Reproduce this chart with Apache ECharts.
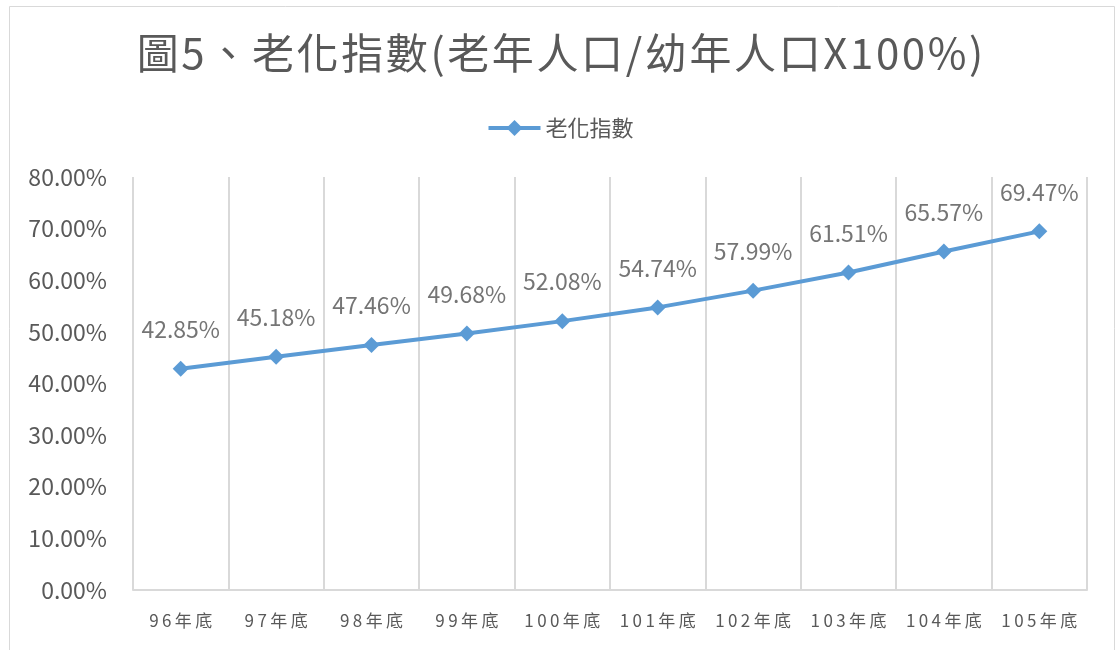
<!DOCTYPE html>
<html><head><meta charset="utf-8">
<script src="https://cdn.jsdelivr.net/npm/echarts@6/dist/echarts.min.js"></script>
<style>html,body{margin:0;padding:0;background:#fff}#c{width:1120px;height:650px}</style>
</head><body><div id="c"></div>
<script>
const titleText = '圖5、老化指數(老年人口/幼年人口X100%)';
const seriesName = '老化指數';
const categories = ['96年底','97年底','98年底','99年底','100年底','101年底','102年底','103年底','104年底','105年底'];
const values = [42.85, 45.18, 47.46, 49.68, 52.08, 54.74, 57.99, 61.51, 65.57, 69.47];
const yTicks = [0, 10, 20, 30, 40, 50, 60, 70, 80];

const FONT = '"Noto Sans CJK TC","Noto Sans",sans-serif';
const spaced = (s, sp) => s.split('').join(sp);
const chart = echarts.init(document.getElementById('c'), null, {renderer:'canvas'});
chart.setOption({
  backgroundColor:'#fff',
  animation:false,
  graphic:[{type:'rect', shape:{x:9.5,y:6.5,width:1105,height:660}, style:{fill:'none',stroke:'#d9d9d9',lineWidth:1}, z:-1}],
  title:{text:spaced(titleText,'\u200a'), left:'center', top:27, textStyle:{fontFamily:FONT, fontSize:42, fontWeight:'normal', color:'#595959'}},
  legend:{top:112, left:'center', itemWidth:52, itemHeight:20, itemGap:4,
    lineStyle:{width:4}, textStyle:{fontFamily:FONT, fontSize:22, color:'#595959'}, data:[seriesName]},
  grid:{left:133, right:33, top:177, bottom:60, containLabel:false},
  xAxis:{type:'category', data:categories, boundaryGap:true,
    axisLine:{lineStyle:{color:'#d9d9d9', width:2}}, axisTick:{show:false},
    splitLine:{show:true, lineStyle:{color:'#d9d9d9', width:2}},
    axisLabel:{interval:0, margin:22, fontFamily:FONT, fontSize:17, color:'#595959', formatter:v=>spaced(v,'\u2009')}},
  yAxis:{type:'value', min:yTicks[0], max:yTicks[yTicks.length-1], interval:10,
    axisLine:{show:false}, axisTick:{show:false}, splitLine:{show:false},
    axisLabel:{margin:26, fontFamily:FONT, fontSize:23, color:'#595959', formatter:v=>v.toFixed(2)+'%'}},
  series:[{name:seriesName, type:'line', data:values, symbol:'diamond', symbolSize:16,
    lineStyle:{color:'#5B9BD5', width:4}, itemStyle:{color:'#5B9BD5'},
    label:{show:true, position:'top', distance:20, fontFamily:FONT, fontSize:23, color:'#757575', formatter:p=>p.value.toFixed(2)+'%'}}]
});
</script></body></html>
